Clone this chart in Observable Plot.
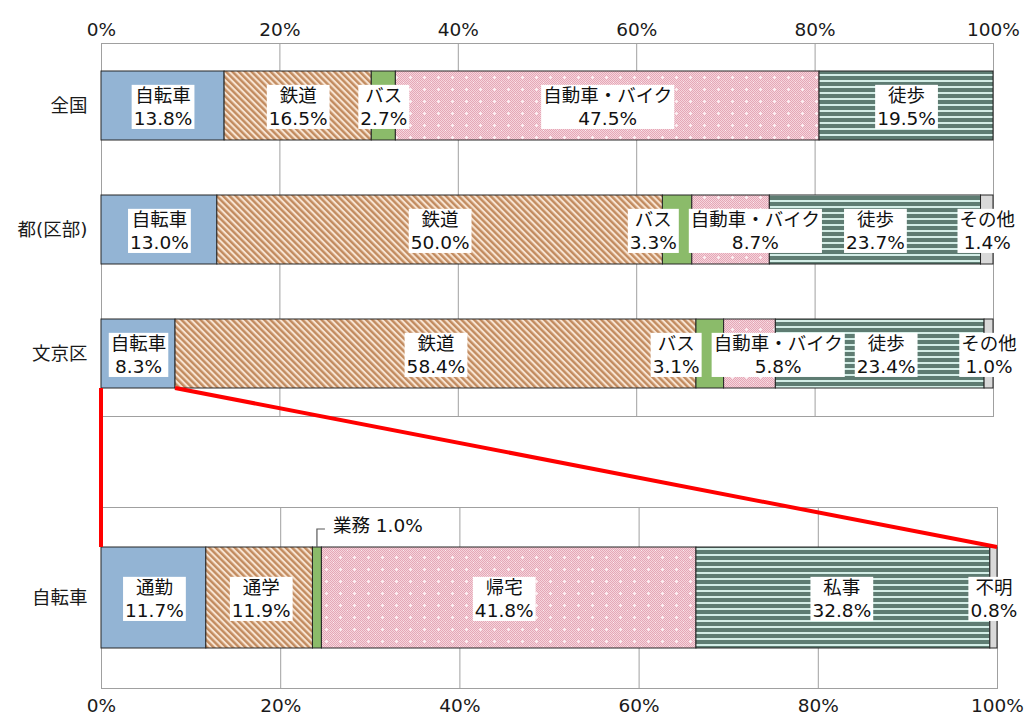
<!DOCTYPE html>
<html><head><meta charset="utf-8">
<script src="https://cdn.jsdelivr.net/npm/d3@7"></script>
<script src="https://cdn.jsdelivr.net/npm/@observablehq/plot@0.6"></script>
<style>
body{margin:0;background:#fff;font-family:"DejaVu Sans","Noto Sans CJK JP",sans-serif;}
#wrap{position:relative;width:1025px;height:718px;overflow:hidden;background:#fff;}
#wrap > .layer{position:absolute;left:0;}
</style></head><body>
<svg width="0" height="0" style="position:absolute">
 <defs>
  <pattern id="pRail" patternUnits="userSpaceOnUse" width="4.5" height="4.5" patternTransform="rotate(-45)">
   <rect width="4.5" height="4.5" fill="#F7E3D1"/>
   <rect width="2.4" height="4.5" fill="#C28B5F"/>
  </pattern>
  <pattern id="pCarDot" patternUnits="userSpaceOnUse" width="2" height="2">
   <rect width="2" height="2" fill="#F6D4DC"/>
   <rect width="1" height="1" fill="#E4A8B7"/>
   <rect x="1" y="1" width="1" height="1" fill="#E4A8B7"/>
  </pattern>
  <pattern id="pCar" patternUnits="userSpaceOnUse" width="14" height="12">
   <rect width="14" height="12" fill="url(#pCarDot)"/>
   <rect x="4" y="4" width="1" height="3" fill="#FBEFF2"/>
   <rect x="3" y="5" width="3" height="1" fill="#FBEFF2"/>
   <rect x="11" y="10" width="1" height="1" fill="#FBEFF2"/>
  </pattern>
  <pattern id="pWalk" patternUnits="userSpaceOnUse" width="6" height="6">
   <rect width="6" height="6" fill="#5E7C72"/>
   <rect y="2" width="6" height="2" fill="#D3EDE6"/>
  </pattern>
 </defs>
</svg>
<div id="wrap"></div>
<script>
// ---- data ----
const regions = ["全国", "都(区部)", "文京区"];
const modes = ["自転車", "鉄道", "バス", "自動車・バイク", "徒歩", "その他"];
const zenkoku = [13.8, 16.5, 2.7, 47.5, 19.5, 0];
const tokubu  = [13.0, 50.0, 3.3, 8.7, 23.7, 1.4];
const bunkyo  = [8.3, 58.4, 3.1, 5.8, 23.4, 1.0];
const bikeLabel = "自転車";
const purposes = ["通勤", "通学", "業務", "帰宅", "私事", "不明"];
const bikePurpose = [11.7, 11.9, 1.0, 41.8, 32.8, 0.8];
const tickValues = [0, 20, 40, 60, 80, 100];
const tickLabels = ["0%", "20%", "40%", "60%", "80%", "100%"];

// ---- styling ----
const FILLS = ["#93B4D4", "url(#pRail)", "#8BBB6A", "url(#pCar)", "url(#pWalk)", "#D9D9D9"];
const FONT = '"DejaVu Sans", "Noto Sans CJK JP", sans-serif';
const FS = 18.5;
const LH = 1.25;

const regionSeries = [zenkoku, tokubu, bunkyo];
const topRows = [];
regions.forEach((r, i) => modes.forEach((m, j) => {
  const v = regionSeries[i][j];
  if (v > 0) topRows.push({region: r, mode: m, value: v});
}));
const botRows = purposes.map((p, j) => ({cat: bikeLabel, mode: p, value: bikePurpose[j]}));

const fmtTick = d => tickLabels[tickValues.indexOf(Math.round(d * 100))];
const labelText = d => d.mode + "\n" + d.value.toFixed(1) + "%";

const wrap = document.getElementById("wrap");

const topPlot = Plot.plot({
  width: 1025, height: 420,
  marginLeft: 101, marginRight: 32, marginTop: 43, marginBottom: 4,
  style: {fontFamily: FONT, fontSize: FS + "px", color: "#1a1a1a", background: "transparent"},
  x: {domain: [0, 1], axis: "top", ticks: tickValues.map(t => t / 100), tickFormat: fmtTick, tickSize: 0, tickPadding: 8, label: null},
  y: {domain: regions, paddingInner: 0.445, paddingOuter: 0.2225, tickSize: 0, tickPadding: 14, label: null},
  color: {domain: modes, range: FILLS},
  marks: [
    Plot.gridX(tickValues.map(t => t / 100), {stroke: "#a0a0a0", strokeOpacity: 1}),
    Plot.frame({stroke: "#a0a0a0"}),
    Plot.barX(topRows, Plot.stackX({offset: "normalize", order: modes, x: "value", y: "region", z: "mode", fill: "mode", stroke: "#262626", strokeWidth: 1})),
    Plot.text(topRows, Plot.stackX({offset: "normalize", order: modes, x: "value", y: "region", z: "mode", text: labelText, fill: "#111", fontSize: FS, lineHeight: LH}))
  ]
});
const topDiv = document.createElement("div");
topDiv.className = "layer"; topDiv.style.top = "0px";
topDiv.appendChild(topPlot);
wrap.appendChild(topDiv);

const BOT_TOP = 480;
const botPlot = Plot.plot({
  width: 1025, height: 238,
  marginLeft: 101, marginRight: 28, marginTop: 27, marginBottom: 30,
  style: {fontFamily: FONT, fontSize: FS + "px", color: "#1a1a1a", background: "transparent"},
  x: {domain: [0, 1], axis: "bottom", ticks: tickValues.map(t => t / 100), tickFormat: fmtTick, tickSize: 0, tickPadding: 10.5, label: null},
  y: {domain: [bikeLabel], paddingInner: 0.442, paddingOuter: 0.221, tickSize: 0, tickPadding: 14, label: null},
  color: {domain: purposes, range: FILLS},
  marks: [
    Plot.gridX(tickValues.map(t => t / 100), {stroke: "#a0a0a0", strokeOpacity: 1}),
    Plot.frame({stroke: "#a0a0a0"}),
    Plot.barX(botRows, Plot.stackX({offset: "normalize", order: purposes, x: "value", y: "cat", z: "mode", fill: "mode", stroke: "#262626", strokeWidth: 1})),
    Plot.text(botRows, Plot.stackX({offset: "normalize", order: purposes, x: "value", y: "cat", z: "mode", text: labelText, filter: d => d.mode !== "業務", fill: "#111", fontSize: FS, lineHeight: LH}))
  ]
});
const botDiv = document.createElement("div");
botDiv.className = "layer"; botDiv.style.top = BOT_TOP + "px";
botDiv.appendChild(botPlot);
wrap.appendChild(botDiv);

// ---- white label boxes, with simple overlap avoidance per row ----
function boxLabels(svg, rows, rowKey) {
  const PADX = 2, PADY = 0, GAP = 10;
  const texts = d3.select(svg).selectAll('g[aria-label="text"] text').nodes();
  const items = texts.map(t => {
    const i = d3.select(t).datum();
    const b = t.getBBox();
    const tr = t.getAttribute("transform") || "";
    const m = /translate\(\s*([-\d.e]+)[ ,]+([-\d.e]+)\s*\)/.exec(tr);
    const tx = m ? +m[1] : 0;
    return {t, row: rows[i][rowKey], b, tr, cx: tx + b.x + b.width / 2, w: b.width + 2 * PADX, shift: 0};
  });
  const groups = d3.group(items, d => d.row);
  for (const [, arr] of groups) {
    arr.sort((a, b) => a.cx - b.cx);
    for (let it = 0; it < 200; it++) {
      let moved = false;
      for (let k = 1; k < arr.length; k++) {
        const a = arr[k - 1], b = arr[k];
        const ov = (a.cx + a.shift + a.w / 2 + GAP) - (b.cx + b.shift - b.w / 2);
        if (ov > 0.01) { a.shift -= ov / 2; b.shift += ov / 2; moved = true; }
      }
      if (!moved) break;
    }
  }
  const NS = "http://www.w3.org/2000/svg";
  for (const d of items) {
    const g = document.createElementNS(NS, "g");
    g.setAttribute("transform", `translate(${d.shift},0)`);
    const r = document.createElementNS(NS, "rect");
    r.setAttribute("x", d.b.x - PADX);
    r.setAttribute("y", d.b.y - PADY);
    r.setAttribute("width", d.b.width + 2 * PADX);
    r.setAttribute("height", d.b.height + 2 * PADY);
    r.setAttribute("fill", "#fff");
    if (d.tr) r.setAttribute("transform", d.tr);
    d.t.parentNode.insertBefore(g, d.t);
    g.appendChild(r);
    g.appendChild(d.t);
  }
}
boxLabels(topPlot, topRows, "region");
boxLabels(botPlot, botRows, "cat");

// ---- 業務 label with leader line (bottom panel) ----
const bx = botPlot.scale("x"), by = botPlot.scale("y");
const bizIdx = purposes.indexOf("業務");
const bizTotal = d3.sum(bikePurpose);
const bizMid = (d3.sum(bikePurpose.slice(0, bizIdx)) + bikePurpose[bizIdx] / 2) / bizTotal;
const bizX = bx.apply(bizMid), barTop = by.apply(bikeLabel);
const bs = d3.select(botPlot);
bs.append("path")
  .attr("d", `M${bizX},${barTop}V${barTop - 18}H${bizX + 8}`)
  .attr("fill", "none").attr("stroke", "#595959").attr("stroke-width", 1.2);
bs.append("text")
  .attr("x", bizX + 16).attr("y", barTop - 21)
  .attr("dy", "0.35em")
  .attr("text-anchor", "start")
  .attr("font-family", FONT).attr("font-size", FS).attr("fill", "#111")
  .text(`業務 ${bikePurpose[bizIdx].toFixed(1)}%`);

// ---- red zoom connector lines ----
const tx = topPlot.scale("x"), ty = topPlot.scale("y");
const bunkyoBikeEnd = bunkyo[0] / d3.sum(bunkyo);
const yFrom = ty.apply("文京区") + ty.bandwidth;
const yTo = BOT_TOP + by.apply(bikeLabel);
const overlay = d3.select(wrap).append("svg")
  .attr("class", "layer").style("top", "0px")
  .attr("width", 1025).attr("height", 718)
  .style("pointer-events", "none");
overlay.append("line")
  .attr("x1", tx.apply(0)).attr("y1", yFrom)
  .attr("x2", bx.apply(0)).attr("y2", yTo)
  .attr("stroke", "#FF0000").attr("stroke-width", 4);
overlay.append("line")
  .attr("x1", tx.apply(bunkyoBikeEnd)).attr("y1", yFrom)
  .attr("x2", bx.apply(1)).attr("y2", yTo)
  .attr("stroke", "#FF0000").attr("stroke-width", 4);
</script>
</body></html>
